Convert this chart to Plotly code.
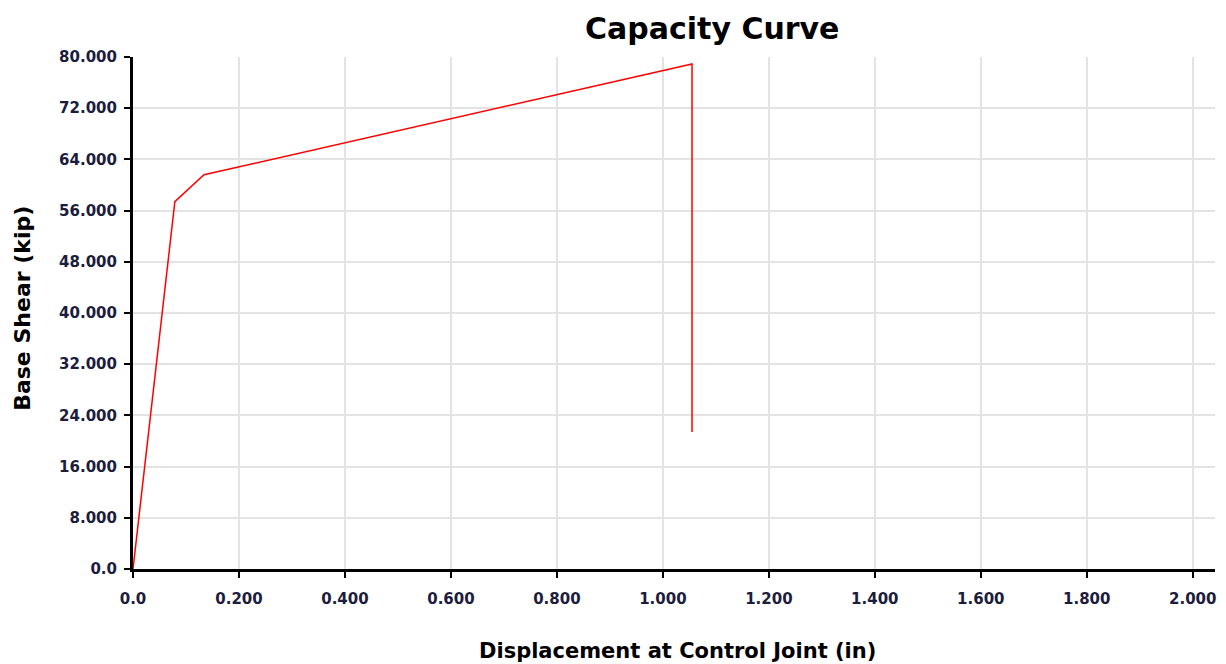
import plotly.graph_objects as go

displacement = [0.0, 0.079, 0.134, 1.055, 1.055]
base_shear = [0.0, 57.4, 61.6, 78.9, 21.4]

x_tickvals = [0.0, 0.2, 0.4, 0.6, 0.8, 1.0, 1.2, 1.4, 1.6, 1.8, 2.0]
x_ticktext = ["0.0", "0.200", "0.400", "0.600", "0.800", "1.000", "1.200", "1.400", "1.600", "1.800", "2.000"]
y_tickvals = [0, 8, 16, 24, 32, 40, 48, 56, 64, 72, 80]
y_ticktext = ["0.0", "8.000", "16.000", "24.000", "32.000", "40.000", "48.000", "56.000", "64.000", "72.000", "80.000"]

font_family = "DejaVu Sans, sans-serif"
tick_color = "#1c1c3c"

fig = go.Figure()
fig.add_trace(go.Scatter(x=displacement, y=base_shear, mode="lines",
                         line=dict(color="#ff0000", width=1.5), showlegend=False))

fig.update_layout(
    width=1210, height=664,
    margin=dict(l=125, r=3, t=49, b=103, autoexpand=False),
    paper_bgcolor="white", plot_bgcolor="white",
    xaxis=dict(range=[0, 2.042], tickvals=x_tickvals,
               ticktext=["<b>%s</b>" % t for t in x_ticktext],
               showgrid=True, gridcolor="#e3e3e3", gridwidth=1.5,
               showline=True, linecolor="black", linewidth=3,
               ticks="outside", ticklen=6, tickwidth=2, tickcolor="black",
               ticklabelstandoff=8, automargin=False,
               tickfont=dict(family=font_family, size=15, color=tick_color),
               zeroline=False),
    yaxis=dict(range=[0, 80], tickvals=y_tickvals,
               ticktext=["<b>%s</b>" % t for t in y_ticktext],
               showgrid=True, gridcolor="#e3e3e3", gridwidth=1.5,
               showline=True, linecolor="black", linewidth=3,
               ticks="outside", ticklen=6, tickwidth=2, tickcolor="black",
               ticklabelstandoff=4, automargin=False,
               tickfont=dict(family=font_family, size=15, color=tick_color),
               zeroline=False),
    annotations=[
        dict(text="<b>Capacity Curve</b>", xref="paper", yref="paper",
             x=0.535, y=1.0566, xanchor="center", yanchor="middle", showarrow=False,
             font=dict(family=font_family, size=30, color="black")),
        dict(text="<b>Displacement at Control Joint (in)</b>", xref="paper", yref="paper",
             x=0.503, y=-0.160, xanchor="center", yanchor="middle", showarrow=False,
             font=dict(family=font_family, size=21, color="black")),
        dict(text="<b>Base Shear (kip)</b>", xref="paper", yref="paper",
             x=-0.1017, y=0.51, xanchor="center", yanchor="middle", showarrow=False,
             textangle=-90,
             font=dict(family=font_family, size=22, color="black")),
    ],
)

fig.write_html("out.html")
